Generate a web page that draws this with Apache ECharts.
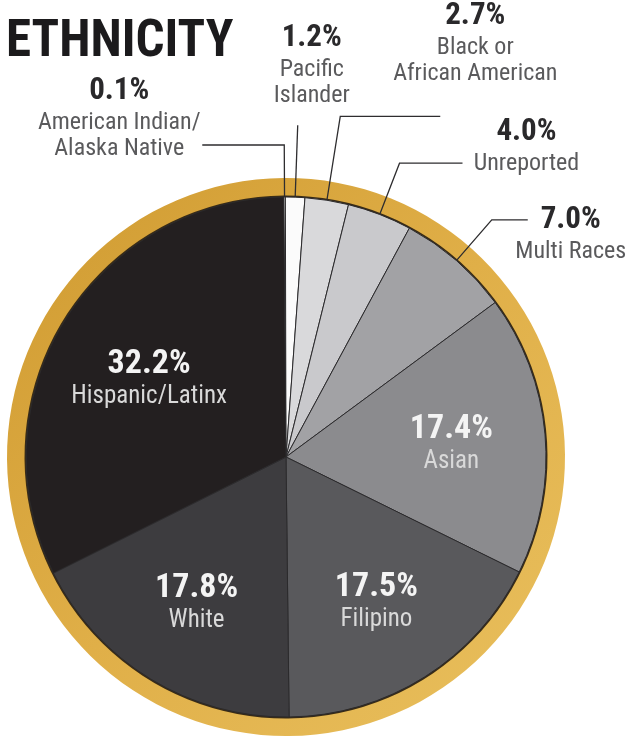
<!DOCTYPE html>
<html>
<head>
<meta charset="utf-8">
<script src="https://cdn.jsdelivr.net/npm/echarts@6/dist/echarts.min.js"></script>
<style>
html,body{margin:0;padding:0;background:#fff;}
#chart{width:629px;height:740px;}
</style>
</head>
<body>
<div id="chart"></div>
<script>
// ---- data ----
const titleText = 'ETHNICITY';
const categories = ['American Indian/\nAlaska Native', 'Pacific\nIslander', 'Black or\nAfrican American', 'Unreported', 'Multi Races', 'Asian', 'Filipino', 'White', 'Hispanic/Latinx'];
const values = [0.1, 1.2, 2.7, 4.0, 7.0, 17.4, 17.5, 17.8, 32.2];
const sliceColors = ['#ffffff', '#fbfbfb', '#d9d9db', '#c9c9cc', '#a2a2a5', '#8b8b8e', '#59595c', '#3d3c3f', '#231f20'];

// which slices get outside labels with leaders (index -> leader geometry)
const outsideLeaders = {
  0: {length: 52, length2: 82, dx: -78, dy: -28},
  1: {length: 72, length2: 0, dx: 9, dy: -61},
  2: {length: 85, length2: 100, dx: 30, dy: -74},
  3: {length: 55, length2: 63, dx: 59, dy: -18},
  4: {length: 54, length2: 36, dx: 38, dy: 13}
};
// small nudges for the inside labels (index -> offset)
const insideNudge = {5: {dx: 2, dy: 0}, 6: {dx: 3, dy: 5}, 7: {dx: -4, dy: 5}, 8: {dx: 3, dy: 6}};

const FONT = "'Roboto Condensed', 'Open Sans Condensed', 'DejaVu Sans Condensed', sans-serif";
const CENTER = [286, 457];
const START = 90.5;

function richLabel(value, name) {
  const lines = name.split('\n').map(s => '{n|' + s + '}');
  return '{p|' + value.toFixed(1) + '%}\n' + lines.join('\n');
}

const mainData = values.map((v, i) => {
  const item = {
    value: v,
    name: categories[i],
    itemStyle: {color: sliceColors[i]}
  };
  if (outsideLeaders[i]) {
    item.label = {show: true};
    item.labelLine = {show: true, length: outsideLeaders[i].length, length2: outsideLeaders[i].length2};
  } else {
    item.label = {show: false};
    item.labelLine = {show: false};
  }
  return item;
});

const innerData = values.map((v, i) => ({
  value: v,
  name: categories[i],
  label: {show: !outsideLeaders[i]}
}));

const chart = echarts.init(document.getElementById('chart'), null, {renderer: 'canvas'});
chart.setOption({
  backgroundColor: '#ffffff',
  animation: false,
  title: {
    text: titleText,
    left: 1,
    top: 13,
    textStyle: {fontFamily: FONT, fontSize: 51, fontWeight: 'bold', color: '#1b1a1c'}
  },
  series: [
    {
      // gold ring
      type: 'pie',
      silent: true,
      z: 1,
      center: CENTER,
      radius: [259, 279],
      startAngle: START,
      label: {show: false},
      labelLine: {show: false},
      emphasis: {disabled: true},
      itemStyle: {
        color: new echarts.graphic.LinearGradient(0, 0, 1, 1, [
          {offset: 0, color: '#cf9a30'},
          {offset: 0.5, color: '#e0af48'},
          {offset: 1, color: '#e9c05e'}
        ]),
        borderWidth: 0
      },
      data: [{value: 1, name: 'ring'}]
    },
    {
      // dark inner edge of the ring
      type: 'pie',
      silent: true,
      z: 2,
      center: CENTER,
      radius: [259, 261.5],
      startAngle: START,
      label: {show: false},
      labelLine: {show: false},
      emphasis: {disabled: true},
      itemStyle: {color: '#3a2c16', borderWidth: 0},
      data: [{value: 1, name: 'edge'}]
    },
    {
      type: 'pie',
      z: 3,
      silent: true,
      center: CENTER,
      radius: [0, 260],
      startAngle: START,
      clockwise: true,
      avoidLabelOverlap: false,
      emphasis: {disabled: true},
      itemStyle: {borderColor: '#2b2a2c', borderWidth: 1},
      label: {
        position: 'outside',
        formatter: p => richLabel(p.value, p.name),
        rich: {
          p: {fontFamily: FONT, fontSize: 31, fontWeight: 'bold', color: '#2a292b', lineHeight: 38, align: 'center'},
          n: {fontFamily: FONT, fontSize: 24, color: '#5a5a5c', lineHeight: 26, align: 'center'}
        }
      },
      labelLine: {
        lineStyle: {color: '#2e2d2f', width: 1.3},
        minTurnAngle: 0,
        maxSurfaceAngle: 180
      },
      labelLayout: function (params) {
        const o = outsideLeaders[params.dataIndex];
        if (!o) return {};
        return {align: 'center', dx: o.dx, dy: o.dy};
      },
      data: mainData
    },
    {
      // carries the inside labels of the large slices
      type: 'pie',
      z: 4,
      silent: true,
      center: CENTER,
      radius: [62, 260],
      startAngle: START,
      clockwise: true,
      avoidLabelOverlap: false,
      emphasis: {disabled: true},
      itemStyle: {color: 'rgba(0,0,0,0)', borderWidth: 0},
      labelLine: {show: false},
      label: {
        position: 'inside',
        formatter: p => richLabel(p.value, p.name),
        rich: {
          p: {fontFamily: FONT, fontSize: 34, fontWeight: 'bold', color: '#f4f4f4', lineHeight: 38, align: 'center'},
          n: {fontFamily: FONT, fontSize: 25, color: '#d9d9d9', lineHeight: 26, align: 'center'}
        }
      },
      labelLayout: function (params) {
        const o = insideNudge[params.dataIndex];
        return o ? {dx: o.dx, dy: o.dy} : {};
      },
      data: innerData
    }
  ]
});
</script>
</body>
</html>
